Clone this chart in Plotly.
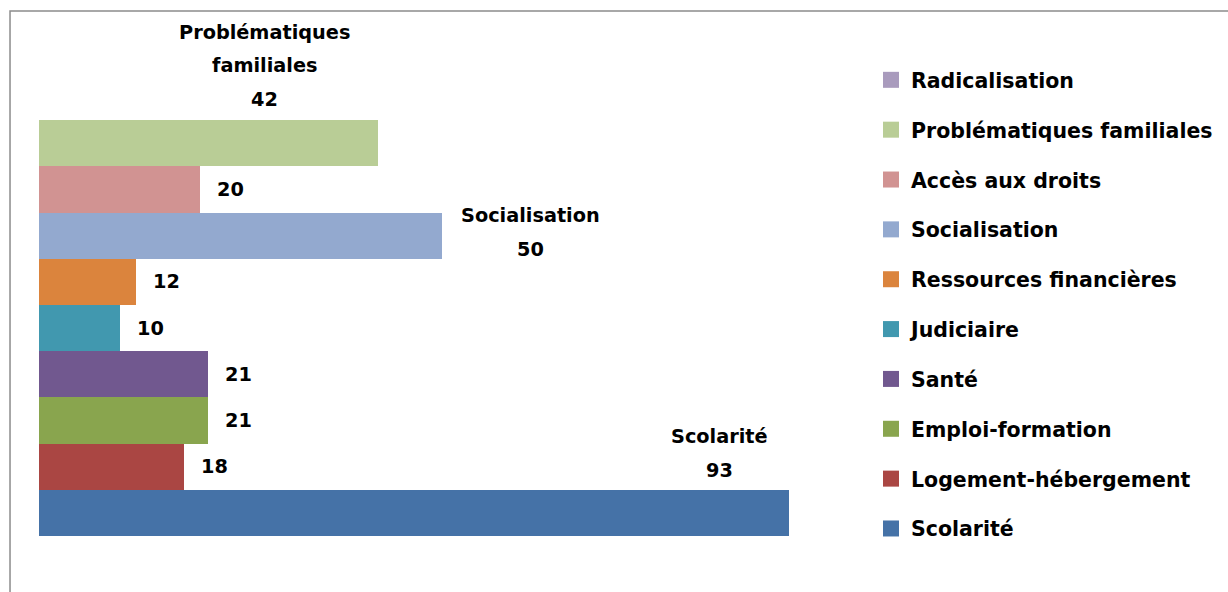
import plotly.graph_objects as go

# Categories listed bottom to top of the chart
categories = [
    "Scolarité",
    "Logement-hébergement",
    "Emploi-formation",
    "Santé",
    "Judiciaire",
    "Ressources financières",
    "Socialisation",
    "Accès aux droits",
    "Problématiques familiales",
    "Radicalisation",
]
counts = [93, 18, 21, 21, 10, 12, 50, 20, 42, 0]

colors = [
    "#4572A7", "#AA4643", "#89A54E", "#71588F", "#4198AF",
    "#DB843D", "#93A9CF", "#D19392", "#B9CD96", "#A99BBD",
]

FONT = "DejaVu Sans"
LABEL_SIZE = 19.3
LEGEND_SIZE = 20.5

# Labels that carry the category name, with pixel offsets from the bar end
# (dx, dy of the first line) and how the name is broken into lines.
callouts = {
    "Problématiques familiales": dict(dx=-113, dy=111, lines=["Problématiques", "familiales"]),
    "Socialisation": dict(dx=88, dy=20, lines=["Socialisation"]),
    "Scolarité": dict(dx=-69, dy=76, lines=["Scolarité"]),
}
LINE_STEP = 33.5

fig = go.Figure()

for name, val, col in zip(categories, counts, colors):
    fig.add_trace(go.Bar(
        x=[val], y=[name], orientation="h",
        marker=dict(color=col, line=dict(width=0)),
        name=name, showlegend=False,
        hoverinfo="x+y",
    ))

# legend swatches, top entry first
for name, col in reversed(list(zip(categories, colors))):
    fig.add_trace(go.Scatter(
        x=[None], y=[None], mode="markers",
        marker=dict(symbol="square", size=16, color=col),
        name=name, legendgroup=name, showlegend=True,
    ))

label_font = dict(family=FONT, size=LABEL_SIZE, color="#000", weight="bold")
annotations = []
for name, val in zip(categories, counts):
    if val == 0:
        continue
    if name in callouts:
        c = callouts[name]
        texts = c["lines"] + [str(val)]
        for i, t in enumerate(texts):
            annotations.append(dict(
                x=val, y=name, xref="x", yref="y", text=t, showarrow=False,
                xanchor="center", yanchor="middle",
                xshift=c["dx"], yshift=c["dy"] - i * LINE_STEP,
                font=label_font,
            ))
    else:
        annotations.append(dict(
            x=val, y=name, xref="x", yref="y", text=str(val), showarrow=False,
            xanchor="left", yanchor="middle", xshift=15,
            font=label_font,
        ))

fig.update_layout(
    width=1228, height=592,
    margin=dict(l=39, r=382.5, t=74, b=56),
    paper_bgcolor="white", plot_bgcolor="white",
    barmode="overlay", bargap=0,
    xaxis=dict(range=[0, 100], visible=False, fixedrange=True),
    yaxis=dict(categoryorder="array", categoryarray=categories, visible=False,
               range=[-0.5, len(categories) - 0.5]),
    legend=dict(
        traceorder="grouped", xref="container", yref="container",
        x=871 / 1228, y=1 - 60 / 592, xanchor="left", yanchor="top",
        font=dict(family=FONT, size=LEGEND_SIZE, color="#000", weight="bold"),
        tracegroupgap=20.2, maxheight=580, itemclick=False, itemdoubleclick=False,
        bgcolor="rgba(0,0,0,0)",
    ),
    annotations=annotations,
    shapes=[dict(
        type="rect", xref="paper", yref="paper",
        x0=(10 - 39) / 806.5, x1=1.6, y0=-0.3, y1=(536 - 11) / 462,
        line=dict(color="#8c8c8c", width=1.5), fillcolor="rgba(0,0,0,0)",
        layer="below",
    )],
    showlegend=True,
)

fig.write_html("out.html")
